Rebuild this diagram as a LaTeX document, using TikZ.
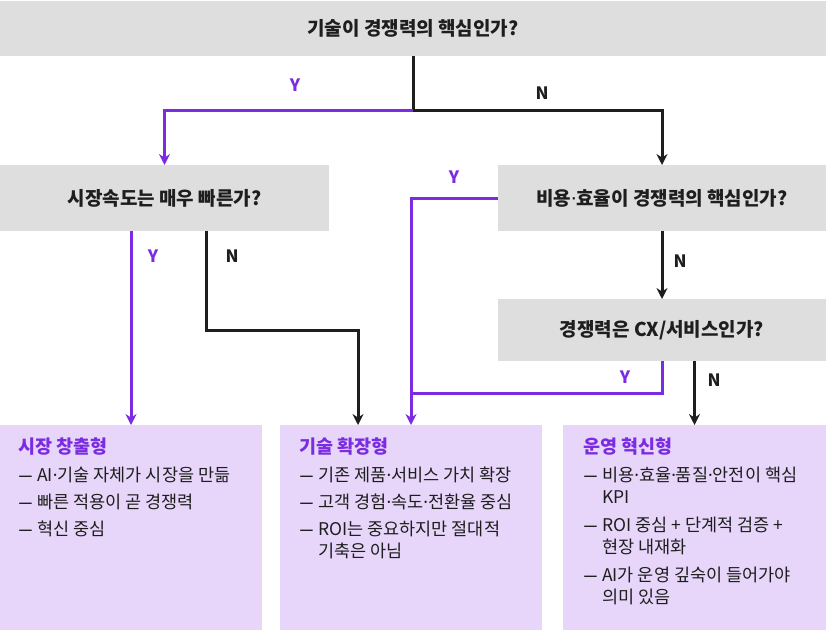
\documentclass[tikz,border=0pt]{standalone}
\usepackage{fontspec}
\setmainfont{Noto Sans CJK KR}
\newfontfamily\dotfont{Noto Sans}
\usepackage{tikz}
\usetikzlibrary{positioning,arrows.meta}
\usepackage{xcolor}
\definecolor{qgray}{HTML}{DEDEDE}
\definecolor{lav}{HTML}{E7D6FA}
\definecolor{vio}{HTML}{7B2CE2}
\definecolor{ink}{HTML}{1E1E1E}
\newcommand{\pdot}{{\dotfont ·}}
\newcommand{\dashit}{\makebox[19pt][l]{\scalebox{1.7}[1]{\dotfont –}}}
\newcommand{\cont}{\hspace*{19pt}}
\newcommand{\restitle}[1]{{\fontsize{18.5}{21}\selectfont\bfseries\color{vio}#1}}

\begin{document}
\begin{tikzpicture}[%
    x=1pt,y=-1pt,>={Stealth[length=11pt,width=11pt]},
    question/.style={%
      rectangle,fill=qgray,inner sep=0pt,outer sep=0pt,text=ink,
      font=\fontsize{19}{22}\selectfont\bfseries},
    result/.style={%
      rectangle,fill=lav,inner sep=0pt,outer sep=0pt,
      minimum width=262pt,minimum height=205pt},
    restext/.style={%
      anchor=north west,inner sep=0pt,align=left,text=ink,
      font=\fontsize{17.5}{21.5}\selectfont},
    yes/.style={draw=vio,line width=3pt},
    no/.style={draw=ink,line width=3pt},
    yeslabel/.style={text=vio,font=\fontsize{17}{19}\selectfont\bfseries},
    nolabel/.style={text=ink,font=\fontsize{17}{19}\selectfont\bfseries}
  ]
    \useasboundingbox (0,0) rectangle (826,630);

    \node[question,minimum width=826pt,minimum height=55pt] (tech) at (413,28) {기술이 경쟁력의 핵심인가?};
    \node[question,minimum width=329pt,minimum height=66pt] (speed) at (164.5,198) {시장속도는 매우 빠른가?};
    \node[question,minimum width=328pt,minimum height=66pt] (cost) at (662,198) {비용\pdot 효율이 경쟁력의 핵심인가?};
    \node[question,minimum width=328pt,minimum height=62pt] (cx) at (662,330) {경쟁력은 CX/서비스인가?};

    \node[result] (create) at (131,527.5) {};
    \node[result] (expand) at (411,527.5) {};
    \node[result,minimum width=263pt] (oper) at (694.5,527.5) {};

    \node[restext] (createtext) at ([xshift=18pt,yshift=-13pt]create.north west) {%
      \restitle{시장 창출형}\\[6.5pt]
      \dashit AI\pdot 기술 자체가 시장을 만듦\\[5.5pt]
      \dashit 빠른 적용이 곧 경쟁력\\[5.5pt]
      \dashit 혁신 중심};
    \node[restext] (expandtext) at ([xshift=19pt,yshift=-13pt]expand.north west) {%
      \restitle{기술 확장형}\\[6.5pt]
      \dashit 기존 제품\pdot 서비스 가치 확장\\[5.5pt]
      \dashit 고객 경험\pdot 속도\pdot 전환율 중심\\[5.5pt]
      \dashit ROI는 중요하지만 절대적\\
      \cont 기축은 아님};
    \node[restext] (opertext) at ([xshift=20pt,yshift=-13pt]oper.north west) {%
      \restitle{운영 혁신형}\\[6.5pt]
      \dashit 비용\pdot 효율\pdot 품질\pdot 안전이 핵심\\
      \cont KPI\\[7pt]
      \dashit ROI 중심 + 단계적 검증 +\\
      \cont 현장 내재화\\[7pt]
      \dashit AI가 운영 깊숙이 들어가야\\
      \cont 의미 있음};

    \coordinate (split) at (413,110);
    \coordinate (bendA) at (206,330);
    \coordinate (bendB) at (358,330);
    \coordinate (merge) at (411,393);

    \draw[no] (tech.south) -- (split);
    \draw[yes,->] (split) -| (speed.north);
    \draw[no,->] (split) -| (cost.north);
    \draw[yes,->] (speed.south -| create.north) -- (create.north);
    \draw[no,->] (speed.south -| bendA) -- (bendA) -- (bendB) -- (bendB |- expand.north);
    \draw[yes,->] (cost.west) -| (expand.north);
    \draw[no,->] (cost.south) -- (cx.north);
    \draw[yes] (cx.south) |- (merge);
    \draw[no,->] (cx.south -| oper.north) -- (oper.north);

    \node[yeslabel] (y1) at (295,85) {Y};
    \node[nolabel] (n1) at (542,93) {N};
    \node[yeslabel] (y2) at (153,256) {Y};
    \node[nolabel] (n2) at (232,256) {N};
    \node[yeslabel] (y3) at (454,177) {Y};
    \node[nolabel] (n3) at (680,261) {N};
    \node[yeslabel] (y4) at (625,377) {Y};
    \node[nolabel] (n4) at (714,380) {N};
  \end{tikzpicture}
\end{document}
